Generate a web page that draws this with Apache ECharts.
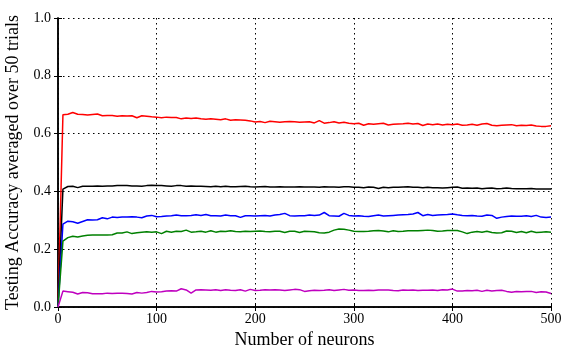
<!DOCTYPE html>
<html>
<head>
<meta charset="utf-8">
<script src="https://cdn.jsdelivr.net/npm/echarts@6/dist/echarts.min.js"></script>
<style>
  html, body { margin: 0; padding: 0; background: #fff; }
  #chart { width: 563px; height: 347px; }
</style>
</head>
<body>
<div id="chart"></div>
<script>
// Number of hidden neurons at which accuracy was measured
const neurons = [
  0, 5, 10, 15, 20, 25, 30, 35, 40, 45, 50, 55, 60, 65, 70, 75, 80, 85, 90, 95, 100,
  105, 110, 115, 120, 125, 130, 135, 140, 145, 150, 155, 160, 165, 170, 175, 180, 185, 190, 195, 200,
  205, 210, 215, 220, 225, 230, 235, 240, 245, 250, 255, 260, 265, 270, 275, 280, 285, 290, 295, 300,
  305, 310, 315, 320, 325, 330, 335, 340, 345, 350, 355, 360, 365, 370, 375, 380, 385, 390, 395, 400,
  405, 410, 415, 420, 425, 430, 435, 440, 445, 450, 455, 460, 465, 470, 475, 480, 485, 490, 495, 500
];

// Mean testing accuracy (50 trials) for each configuration
const accRed = [
  0, 0.665, 0.667, 0.673, 0.667, 0.666, 0.664, 0.666, 0.668, 0.662, 0.663, 0.663, 0.660, 0.662, 0.661, 0.662, 0.655, 0.662, 0.660, 0.658, 0.657,
  0.655, 0.657, 0.656, 0.656, 0.651, 0.654, 0.652, 0.654, 0.651, 0.650, 0.651, 0.650, 0.648, 0.651, 0.646, 0.648, 0.647, 0.646, 0.644, 0.640,
  0.642, 0.638, 0.643, 0.641, 0.639, 0.641, 0.642, 0.641, 0.639, 0.640, 0.641, 0.637, 0.645, 0.636, 0.638, 0.641, 0.637, 0.639, 0.636, 0.634,
  0.636, 0.629, 0.634, 0.632, 0.634, 0.636, 0.630, 0.632, 0.633, 0.634, 0.636, 0.633, 0.635, 0.628, 0.633, 0.631, 0.633, 0.630, 0.632, 0.631,
  0.633, 0.629, 0.630, 0.632, 0.629, 0.633, 0.635, 0.629, 0.627, 0.629, 0.630, 0.631, 0.627, 0.629, 0.628, 0.630, 0.626, 0.625, 0.625, 0.627
];
const accBlack = [
  0, 0.408, 0.417, 0.418, 0.413, 0.418, 0.418, 0.418, 0.419, 0.418, 0.419, 0.419, 0.420, 0.420, 0.420, 0.419, 0.419, 0.418, 0.420, 0.421, 0.420,
  0.420, 0.419, 0.418, 0.420, 0.420, 0.418, 0.419, 0.418, 0.418, 0.417, 0.416, 0.418, 0.416, 0.418, 0.416, 0.416, 0.417, 0.418, 0.416, 0.415,
  0.416, 0.417, 0.415, 0.415, 0.416, 0.415, 0.415, 0.415, 0.416, 0.415, 0.415, 0.415, 0.414, 0.416, 0.415, 0.415, 0.414, 0.416, 0.416, 0.414,
  0.414, 0.413, 0.415, 0.414, 0.410, 0.414, 0.413, 0.414, 0.414, 0.415, 0.416, 0.414, 0.414, 0.413, 0.414, 0.413, 0.413, 0.412, 0.413, 0.414,
  0.415, 0.411, 0.412, 0.411, 0.412, 0.409, 0.411, 0.412, 0.409, 0.410, 0.412, 0.410, 0.409, 0.409, 0.409, 0.410, 0.408, 0.408, 0.408, 0.408
];
const accBlue = [
  0, 0.287, 0.297, 0.295, 0.290, 0.296, 0.302, 0.301, 0.302, 0.309, 0.305, 0.311, 0.310, 0.311, 0.311, 0.312, 0.311, 0.309, 0.315, 0.317, 0.312,
  0.313, 0.315, 0.316, 0.318, 0.316, 0.316, 0.317, 0.319, 0.317, 0.320, 0.316, 0.316, 0.315, 0.318, 0.316, 0.316, 0.310, 0.316, 0.316, 0.315,
  0.316, 0.317, 0.315, 0.318, 0.320, 0.324, 0.316, 0.315, 0.316, 0.316, 0.318, 0.317, 0.318, 0.327, 0.316, 0.315, 0.314, 0.324, 0.317, 0.315,
  0.316, 0.314, 0.313, 0.316, 0.318, 0.315, 0.316, 0.317, 0.318, 0.319, 0.320, 0.322, 0.327, 0.316, 0.320, 0.317, 0.318, 0.319, 0.320, 0.322,
  0.319, 0.317, 0.316, 0.317, 0.315, 0.314, 0.318, 0.317, 0.307, 0.311, 0.313, 0.315, 0.314, 0.314, 0.316, 0.313, 0.317, 0.311, 0.310, 0.311
];
const accGreen = [
  0, 0.228, 0.240, 0.245, 0.242, 0.246, 0.248, 0.249, 0.249, 0.249, 0.249, 0.250, 0.256, 0.256, 0.260, 0.254, 0.257, 0.259, 0.260, 0.259, 0.260,
  0.254, 0.262, 0.259, 0.262, 0.261, 0.266, 0.259, 0.260, 0.262, 0.259, 0.264, 0.259, 0.262, 0.261, 0.264, 0.261, 0.260, 0.262, 0.261, 0.262,
  0.263, 0.261, 0.260, 0.262, 0.262, 0.258, 0.262, 0.262, 0.258, 0.262, 0.261, 0.260, 0.257, 0.256, 0.259, 0.266, 0.270, 0.269, 0.266, 0.262,
  0.261, 0.261, 0.262, 0.264, 0.265, 0.263, 0.260, 0.264, 0.261, 0.262, 0.264, 0.264, 0.264, 0.265, 0.266, 0.265, 0.262, 0.263, 0.265, 0.265,
  0.265, 0.260, 0.254, 0.259, 0.261, 0.259, 0.262, 0.258, 0.256, 0.257, 0.263, 0.262, 0.258, 0.261, 0.257, 0.262, 0.258, 0.259, 0.260, 0.259
];
const accMagenta = [
  0, 0.055, 0.053, 0.051, 0.045, 0.050, 0.049, 0.046, 0.046, 0.046, 0.048, 0.047, 0.048, 0.048, 0.047, 0.045, 0.050, 0.048, 0.050, 0.054, 0.052,
  0.053, 0.055, 0.056, 0.055, 0.063, 0.059, 0.048, 0.059, 0.060, 0.059, 0.058, 0.060, 0.057, 0.060, 0.058, 0.057, 0.060, 0.055, 0.061, 0.057,
  0.058, 0.060, 0.059, 0.060, 0.059, 0.057, 0.059, 0.061, 0.060, 0.054, 0.056, 0.058, 0.057, 0.058, 0.060, 0.057, 0.059, 0.061, 0.058, 0.059,
  0.057, 0.057, 0.058, 0.057, 0.059, 0.059, 0.059, 0.057, 0.056, 0.059, 0.058, 0.059, 0.057, 0.058, 0.058, 0.059, 0.057, 0.060, 0.059, 0.062,
  0.055, 0.055, 0.057, 0.056, 0.058, 0.054, 0.058, 0.055, 0.057, 0.058, 0.054, 0.051, 0.054, 0.053, 0.054, 0.054, 0.050, 0.053, 0.052, 0.047
];

const xTicks = [0, 100, 200, 300, 400, 500];
const yTicks = [0.0, 0.2, 0.4, 0.6, 0.8, 1.0];

const FONT = '"Liberation Serif", "DejaVu Serif", serif';

const pairs = (ys) => neurons.map((x, i) => [x, ys[i]]);

const lineSeries = (ys, color) => ({
  type: 'line',
  data: pairs(ys),
  showSymbol: false,
  symbol: 'none',
  lineStyle: { color: color, width: 1.5 },
  z: 3,
  animation: false
});

const frameAxis = {
  axisLine: { show: true, lineStyle: { color: '#000', width: 1.5 } },
  axisTick: { show: true, inside: true, length: 4, lineStyle: { color: '#000', width: 1 } }
};

const chart = echarts.init(document.getElementById('chart'), null, { renderer: 'canvas' });
chart.setOption({
  backgroundColor: '#fff',
  animation: false,
  grid: { left: 58, right: 12, top: 18, bottom: 40, containLabel: false, outerBoundsMode: 'none' },
  xAxis: [
    Object.assign({
      type: 'value',
      min: xTicks[0],
      max: xTicks[xTicks.length - 1],
      interval: xTicks[1] - xTicks[0],
      name: 'Number of neurons',
      nameLocation: 'middle',
      nameGap: 22,
      nameTextStyle: { fontFamily: FONT, fontSize: 18, color: '#000' },
      axisLabel: { fontFamily: FONT, fontSize: 14, color: '#000', margin: 5 },
      splitLine: { show: true, lineStyle: { color: '#000', width: 1, type: [1.5, 3.5] } }
    }, frameAxis),
    Object.assign({
      type: 'value',
      position: 'top',
      min: xTicks[0],
      max: xTicks[xTicks.length - 1],
      interval: xTicks[1] - xTicks[0],
      axisLabel: { show: false },
      splitLine: { show: false }
    }, frameAxis)
  ],
  yAxis: [
    Object.assign({
      type: 'value',
      min: yTicks[0],
      max: yTicks[yTicks.length - 1],
      interval: 0.2,
      name: 'Testing Accuracy averaged over 50 trials',
      nameLocation: 'middle',
      nameGap: 32,
      nameTextStyle: { fontFamily: FONT, fontSize: 18, color: '#000' },
      axisLabel: {
        fontFamily: FONT, fontSize: 14, color: '#000', margin: 7,
        formatter: (v) => v.toFixed(1)
      },
      splitLine: { show: true, lineStyle: { color: '#000', width: 1, type: [1.5, 3.5] } }
    }, frameAxis),
    Object.assign({
      type: 'value',
      position: 'right',
      min: yTicks[0],
      max: yTicks[yTicks.length - 1],
      interval: 0.2,
      axisLabel: { show: false },
      splitLine: { show: false }
    }, frameAxis)
  ],
  series: [
    lineSeries(accRed, '#ff0000'),
    lineSeries(accBlack, '#000000'),
    lineSeries(accBlue, '#0000ff'),
    lineSeries(accGreen, '#008000'),
    lineSeries(accMagenta, '#bf00bf')
  ]
});
</script>
</body>
</html>
